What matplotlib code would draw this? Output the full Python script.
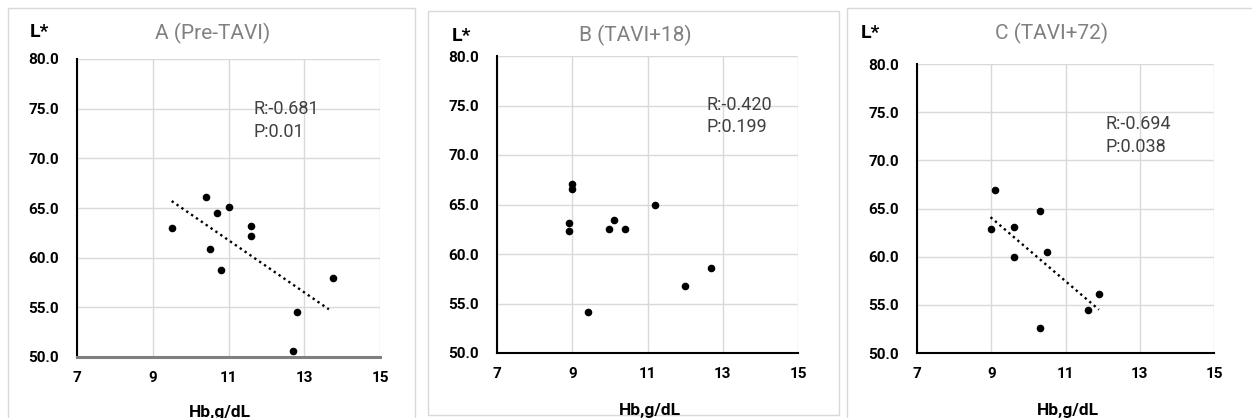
import matplotlib
matplotlib.use("Agg")
import matplotlib.pyplot as plt
from matplotlib.patches import Rectangle

plt.rcParams['font.family'] = ['Roboto', 'DejaVu Sans']

# data
a_hb = [9.5, 10.4, 10.7, 11.0, 10.5, 10.8, 11.6, 11.6, 13.75, 12.8, 12.7]
a_l = [63.0, 66.1, 64.5, 65.1, 60.9, 58.8, 63.2, 62.2, 58.0, 54.5, 50.6]
a_trend_x = [9.5, 13.65]
a_trend_y = [65.7, 54.8]

b_hb = [9.0, 9.0, 8.91, 8.91, 9.41, 9.99, 10.12, 10.39, 11.19, 11.99, 12.7]
b_l = [67.1, 66.55, 63.1, 62.3, 54.1, 62.5, 63.45, 62.5, 65.0, 56.8, 58.6]

c_hb = [8.98, 9.1, 9.6, 9.6, 10.3, 10.5, 10.3, 11.6, 11.9]
c_l = [62.85, 66.9, 63.1, 60.0, 64.7, 60.5, 52.6, 54.5, 56.1]
c_trend_x = [8.98, 11.9]
c_trend_y = [64.1, 54.5]

titles = ["A (Pre-TAVI)", "B (TAVI+18)", "C (TAVI+72)"]
stats = ["R:-0.681\nP:0.01", "R:-0.420\nP:0.199", "R:-0.694\nP:0.038"]
stat_pos = [(11.65, 75.9), (12.58, 76.0), (12.08, 74.7)]
x_ticks = [7, 9, 11, 13, 15]
y_ticks = [50, 55, 60, 65, 70, 75, 80]

W, H = 1252, 418
fig = plt.figure(figsize=(W / 100, H / 100), dpi=100)


def fx(px):
    return px / W


def fy(py):
    return 1 - py / H


# panel frames (left, top, right, bottom in pixels)
for l, t, r, b in [(8, 8, 415, 425), (428, 11, 839, 415), (847, 8, 1260, 425)]:
    fig.patches.append(Rectangle((fx(l), fy(b)), fx(r - l), (b - t) / H,
                                 transform=fig.transFigure, fill=False,
                                 edgecolor="#d9d9d9", lw=1))

# axes boxes (left, top, right, bottom in pixels)
boxes = [(77, 59, 380, 357), (497, 56, 798, 353), (917, 64, 1214, 353)]
title_pos = [(213, 33), (635, 35), (1052, 33)]
lstar_pos = [(39, 32), (461, 36), (870, 33)]
xlab_pos = [(220, 412), (650, 410), (1068, 410)]

data = [(a_hb, a_l), (b_hb, b_l), (c_hb, c_l)]
trends = [(a_trend_x, a_trend_y), None, (c_trend_x, c_trend_y)]

for i in range(3):
    l, t, r, b = boxes[i]
    ax = fig.add_axes([fx(l), fy(b), fx(r - l), (b - t) / H])
    x, y = data[i]
    ax.scatter(x, y, s=20, color="black", zorder=3)
    if trends[i] is not None:
        tx, ty = trends[i]
        ax.plot(tx, ty, color="black", lw=1.7, linestyle=(0, (1, 1.5)), zorder=2)

    ax.set_xlim(7, 15)
    ax.set_ylim(50, 80)
    ax.set_xticks(x_ticks)
    ax.set_yticks(y_ticks)
    ax.set_yticklabels([f"{v:.1f}" for v in y_ticks])
    ax.tick_params(length=0, labelsize=11)
    ax.tick_params(axis="y", pad=13)
    ax.tick_params(axis="x", pad=10)
    for lab in ax.get_xticklabels() + ax.get_yticklabels():
        lab.set_fontweight("bold")
    ax.grid(True, color="#d9d9d9", lw=1)
    ax.set_axisbelow(True)
    ax.spines["top"].set_visible(False)
    ax.spines["right"].set_visible(False)
    ax.spines["left"].set_color("black")
    ax.spines["left"].set_linewidth(1.5)
    if i == 0:
        ax.spines["bottom"].set_color("#7f7f7f")
        ax.spines["bottom"].set_linewidth(2.2)
    else:
        ax.spines["bottom"].set_color("black")
        ax.spines["bottom"].set_linewidth(1.5)

    sx, sy = stat_pos[i]
    ax.text(sx, sy, stats[i], fontsize=13, color="#404040", va="top",
            ha="left", linespacing=1.35)

    px, py = title_pos[i]
    fig.text(fx(px), fy(py), titles[i], fontsize=15, color="#808080",
             ha="center", va="center")
    px, py = lstar_pos[i]
    fig.text(fx(px), fy(py), "L*", fontsize=14, fontweight="bold",
             ha="center", va="center")
    px, py = xlab_pos[i]
    fig.text(fx(px), fy(py), "Hb,g/dL", fontsize=12.5, fontweight="bold",
             ha="center", va="center")

fig.savefig("out.png", dpi=100)
